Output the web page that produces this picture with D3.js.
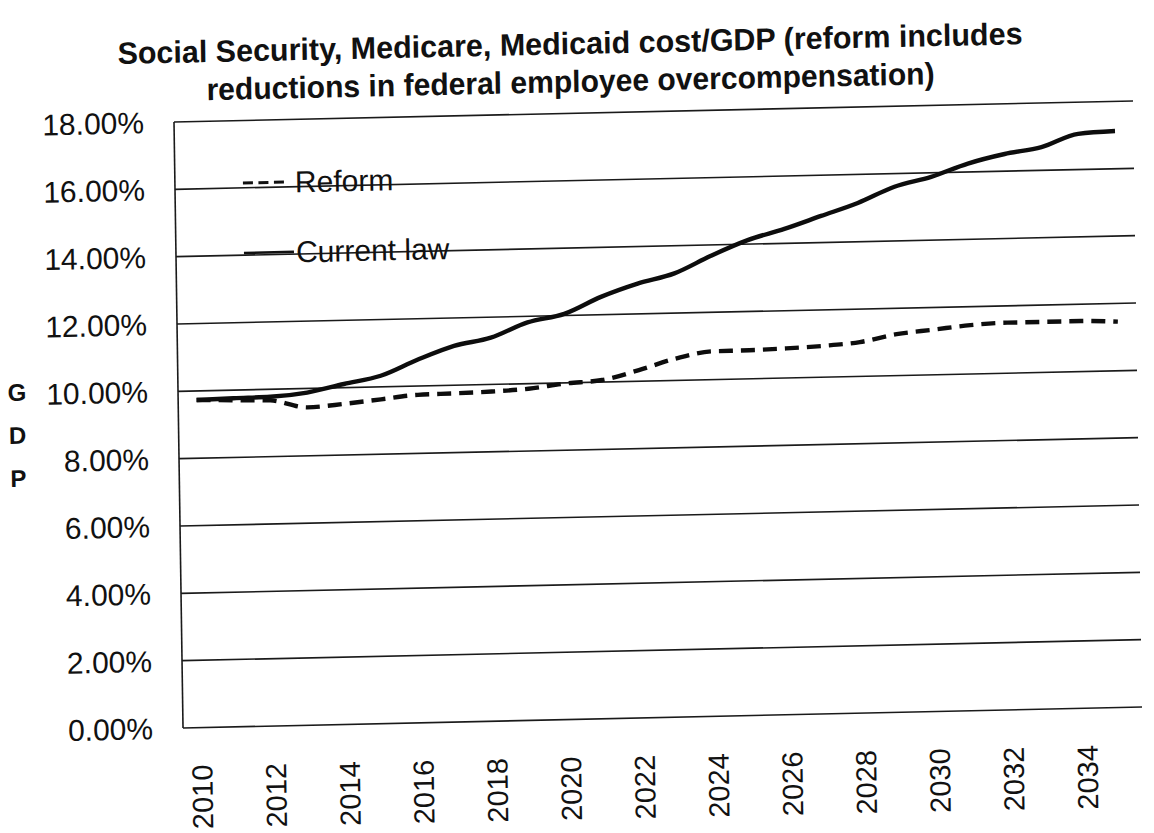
<!DOCTYPE html>
<html><head><meta charset="utf-8">
<script src="https://cdn.jsdelivr.net/npm/d3@7"></script>
<style>body{margin:0;background:#fff}svg{display:block}</style>
</head><body>
<svg id="chart" width="1154" height="833"></svg>
<script>
// ---- data ----
const years = [2010,2011,2012,2013,2014,2015,2016,2017,2018,2019,2020,2021,2022,2023,2024,2025,2026,2027,2028,2029,2030,2031,2032,2033,2034,2035];
const currentLaw = [9.73,9.76,9.78,9.88,10.11,10.33,10.78,11.17,11.39,11.82,12.05,12.53,12.90,13.18,13.68,14.12,14.43,14.79,15.15,15.61,15.88,16.25,16.51,16.69,17.06,17.12];
const reform = [9.73,9.70,9.67,9.44,9.52,9.63,9.74,9.76,9.79,9.85,9.98,10.06,10.33,10.65,10.84,10.85,10.88,10.93,11.02,11.23,11.34,11.45,11.50,11.50,11.50,11.46];
const xTickLabels = ["2010","2012","2014","2016","2018","2020","2022","2024","2026","2028","2030","2032","2034"];
const yTicks = [0,2,4,6,8,10,12,14,16,18];
const titleLines = ["Social Security, Medicare, Medicaid cost/GDP (reform includes","reductions in federal employee overcompensation)"];
const seriesNames = ["Reform","Current law"];
const yAxisTitle = ["G","D","P"];

// ---- layout ----
const W = 959, H = 606;
const svg = d3.select("#chart");
svg.append("rect").attr("width",1154).attr("height",833).attr("fill","#fff");
// scanned page is slightly skewed
const g = svg.append("g").attr("transform","matrix(1,-0.0219,0.0149,1,174,122)");

const x = d3.scaleBand().domain(years).range([0,W]);
const y = d3.scaleLinear().domain([0,18]).range([H,0]);
const cx = d => x(d) + x.bandwidth()/2;

// gridlines
g.append("g").selectAll("line").data(yTicks).join("line")
  .attr("x1",0).attr("x2",W).attr("y1",d=>y(d)).attr("y2",d=>y(d))
  .attr("stroke","#1a1a1a").attr("stroke-width",1.6);
// vertical axis line
g.append("line").attr("x1",0).attr("x2",0).attr("y1",0).attr("y2",H)
  .attr("stroke","#1a1a1a").attr("stroke-width",1.6);

// y tick labels
const fmt = d3.format(".2f");
g.append("g").selectAll("text").data(yTicks).join("text")
  .attr("x",-30).attr("y",d=>y(d)).attr("dy","0.35em")
  .attr("text-anchor","end")
  .attr("font-family","Liberation Sans, Arial, sans-serif").attr("font-size",30)
  .attr("fill","#111").text(d=>fmt(d)+"%");

// x tick labels (rotated)
g.append("g").selectAll("text").data(xTickLabels).join("text")
  .attr("transform",d=>`translate(${cx(+d)},${H+37}) rotate(-90)`)
  .attr("dy","0.35em").attr("text-anchor","end")
  .attr("font-family","Liberation Sans, Arial, sans-serif").attr("font-size",29)
  .attr("fill","#111").text(d=>d);

// y axis title
g.append("g").selectAll("text").data(yAxisTitle).join("text")
  .attr("x",-161).attr("y",(d,i)=>267+i*43).attr("dy","0.35em")
  .attr("text-anchor","middle")
  .attr("font-family","Liberation Sans, Arial, sans-serif").attr("font-size",24).attr("font-weight","bold")
  .attr("fill","#111").text(d=>d);

// lines
const line = d3.line().x((d,i)=>cx(years[i])).y(d=>y(d)).curve(d3.curveMonotoneX);
g.append("path").datum(currentLaw).attr("d",line)
  .attr("fill","none").attr("stroke","#0d0d0d").attr("stroke-width",4.4).attr("stroke-linejoin","round");
g.append("path").datum(reform).attr("d",line)
  .attr("fill","none").attr("stroke","#0d0d0d").attr("stroke-width",4.4)
  .attr("stroke-dasharray","14,8");

// legend
const leg = [{name:seriesNames[0],v:62.5,dash:"10,5.5",w:3,x1:68,x2:109},
             {name:seriesNames[1],v:132.5,dash:null,w:2.6,x1:68,x2:118}];
const lg = g.append("g");
lg.selectAll("line").data(leg).join("line")
  .attr("x1",d=>d.x1).attr("x2",d=>d.x2).attr("y1",d=>d.v).attr("y2",d=>d.v)
  .attr("stroke","#111").attr("stroke-width",d=>d.w)
  .attr("stroke-dasharray",d=>d.dash);
lg.selectAll("text").data(leg).join("text")
  .attr("x",120).attr("y",d=>d.v).attr("dy","0.35em")
  .attr("font-family","Liberation Sans, Arial, sans-serif").attr("font-size",30)
  .attr("fill","#111").text(d=>d.name);

// title (condensed bold to mimic the narrow original face)
const targets = [905, 728];
const tv = [-70, -32];
titleLines.forEach((t,i)=>{
  g.append("text").attr("x",397).attr("y",tv[i]).attr("dy","0.35em")
    .attr("text-anchor","middle")
    .attr("font-family","Liberation Sans, Arial, sans-serif")
    .attr("font-weight","bold").attr("font-size",31).attr("fill","#111")
    .attr("textLength",targets[i]).attr("lengthAdjust","spacingAndGlyphs")
    .text(t);
});
</script>
</body></html>
